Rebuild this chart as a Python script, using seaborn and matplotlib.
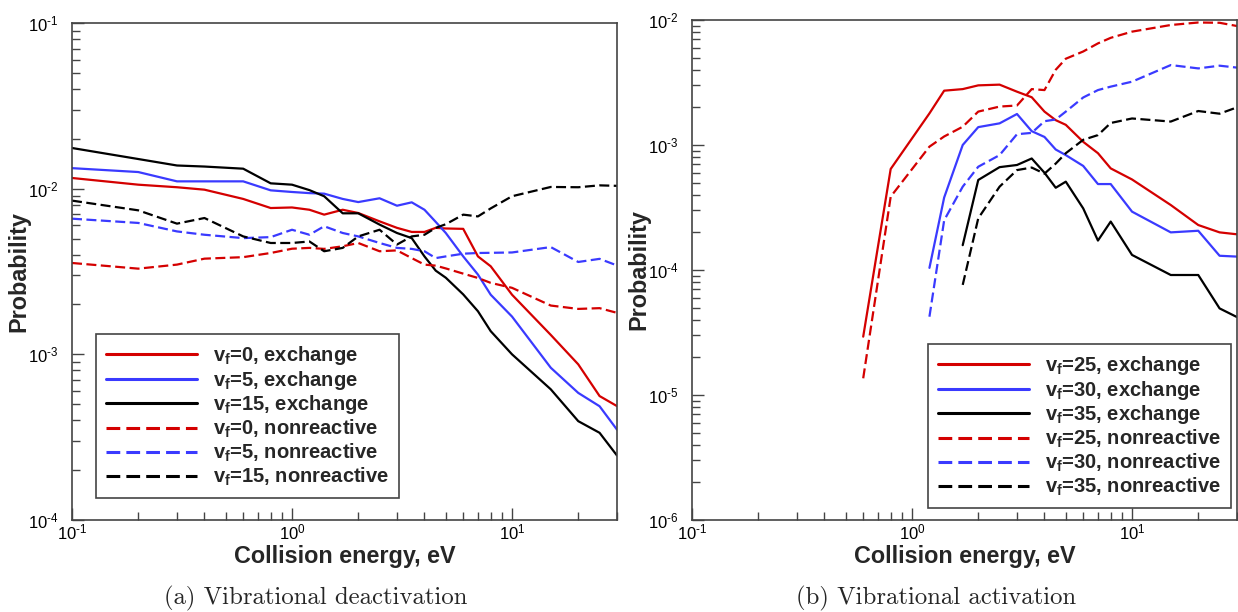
import numpy as np
import pandas as pd
import matplotlib
matplotlib.use("Agg")
import matplotlib.pyplot as plt
import seaborn as sns
from matplotlib.lines import Line2D
from matplotlib.ticker import LogLocator, NullFormatter, FuncFormatter

sns.set_style("ticks")
plt.rcParams['font.family'] = ['Liberation Sans', 'DejaVu Sans']
plt.rcParams['mathtext.fontset'] = 'custom'
plt.rcParams['mathtext.rm'] = 'Liberation Sans'
plt.rcParams['mathtext.bf'] = 'Liberation Sans:bold'
plt.rcParams['mathtext.it'] = 'Liberation Sans:italic'
plt.rcParams['axes.unicode_minus'] = False

# ---------------- data: (a) vibrational deactivation ----------------
E_a = [0.1, 0.2, 0.3, 0.4, 0.6, 0.8, 1.0, 1.2, 1.4, 1.7, 2.0, 2.5, 3.0, 3.5,
       4.0, 4.5, 5.0, 6.0, 7.0, 8.0, 10, 15, 20, 25, 30]
a_ex0 = [0.0116, 0.01057, 0.0102, 0.00986, 0.00867, 0.00764, 0.0077, 0.00746, 0.00697,
         0.00746, 0.00713, 0.00635, 0.0058, 0.00548, 0.00548, 0.0058, 0.00575, 0.00572,
         0.0039, 0.0034, 0.00229, 0.00131, 0.00087, 0.00056, 0.000487]
a_ex5 = [0.0133, 0.0126, 0.01107, 0.01107, 0.01107, 0.00977, 0.00955, 0.0094, 0.00933,
         0.00867, 0.0083, 0.00875, 0.00789, 0.00827, 0.00746, 0.0063, 0.0054, 0.0039,
         0.00303, 0.00229, 0.00169, 0.00083, 0.000585, 0.000486, 0.000351]
a_ex15 = [0.0176, 0.0151, 0.0138, 0.0136, 0.0132, 0.01077, 0.01057, 0.0098, 0.009,
          0.0071, 0.0071, 0.00607, 0.0054, 0.00503, 0.0039, 0.0032, 0.0029, 0.0023,
          0.00182, 0.00138, 0.001, 0.000615, 0.000395, 0.000336, 0.000245]
a_nr0 = [0.00356, 0.00329, 0.00348, 0.00378, 0.00386, 0.00409, 0.00434, 0.00439, 0.00433,
         0.00449, 0.0047, 0.00419, 0.00424, 0.00381, 0.00348, 0.00343, 0.0033, 0.00307,
         0.00289, 0.0027, 0.00252, 0.00197, 0.00188, 0.0019, 0.00178]
a_nr5 = [0.00659, 0.00621, 0.00552, 0.00527, 0.00503, 0.0051, 0.00565, 0.00527, 0.00593,
         0.0054, 0.00515, 0.0047, 0.00439, 0.00433, 0.00419, 0.00381, 0.0039, 0.00405,
         0.00409, 0.0041, 0.00412, 0.00444, 0.00361, 0.00377, 0.00344]
a_nr15 = [0.00847, 0.0074, 0.00615, 0.00665, 0.00515, 0.0047, 0.0047, 0.0048, 0.00419,
          0.00439, 0.00515, 0.00565, 0.0046, 0.00515, 0.00527, 0.0058, 0.0061, 0.00697,
          0.0068, 0.0076, 0.009, 0.01024, 0.0102, 0.01047, 0.0104]
labels_a = [r"v$_\mathbf{f}$=0, exchange", r"v$_\mathbf{f}$=5, exchange",
            r"v$_\mathbf{f}$=15, exchange", r"v$_\mathbf{f}$=0, nonreactive",
            r"v$_\mathbf{f}$=5, nonreactive", r"v$_\mathbf{f}$=15, nonreactive"]

# ---------------- data: (b) vibrational activation ----------------
E_b = [0.6, 0.8, 1.2, 1.4, 1.7, 2.0, 2.5, 3.0, 3.5, 4.0, 4.5, 5.0, 6.0, 7.0, 8.0,
       10, 15, 20, 25, 30]
b_ex25 = [2.93e-5, 6.43e-4, 1.79e-3, 2.72e-3, 2.8e-3, 3.0e-3, 3.04e-3, 2.67e-3, 2.41e-3,
          1.85e-3, 1.58e-3, 1.45e-3, 1.06e-3, 8.6e-4, 6.5e-4, 5.3e-4, 3.31e-4, 2.29e-4,
          2.0e-4, 1.93e-4]
b_nr25 = [1.36e-5, 3.86e-4, 9.7e-4, 1.17e-3, 1.4e-3, 1.85e-3, 2.03e-3, 2.07e-3, 2.8e-3,
          2.75e-3, 4.0e-3, 4.9e-3, 5.6e-3, 6.5e-3, 7.2e-3, 8.07e-3, 9.12e-3, 9.55e-3,
          9.5e-3, 8.95e-3]
b_ex30 = [1.04e-4, 3.8e-4, 1.0e-3, 1.39e-3, 1.49e-3, 1.77e-3, 1.29e-3, 1.16e-3, 9.2e-4,
          8.3e-4, 6.8e-4, 4.87e-4, 4.87e-4, 2.93e-4, 2.0e-4, 2.06e-4, 1.3e-4, 1.28e-4]
b_nr30 = [4.23e-5, 2.5e-4, 4.64e-4, 6.7e-4, 8.3e-4, 1.22e-3, 1.25e-3, 1.55e-3, 1.6e-3,
          1.85e-3, 2.4e-3, 2.75e-3, 2.93e-3, 3.21e-3, 4.36e-3, 4.1e-3, 4.31e-3, 4.16e-3]
b_ex35 = [1.58e-4, 5.25e-4, 6.65e-4, 6.92e-4, 7.8e-4, 6.0e-4, 4.55e-4, 5.09e-4, 3.11e-4,
          1.72e-4, 2.44e-4, 1.32e-4, 9.12e-5, 9.12e-5, 4.93e-5, 4.2e-5]
b_nr35 = [7.6e-5, 2.59e-4, 4.64e-4, 6.3e-4, 6.6e-4, 5.9e-4, 7.1e-4, 8.6e-4, 1.1e-3,
          1.2e-3, 1.5e-3, 1.63e-3, 1.54e-3, 1.87e-3, 1.78e-3, 2.0e-3]
labels_b = [r"v$_\mathbf{f}$=25, exchange", r"v$_\mathbf{f}$=30, exchange",
            r"v$_\mathbf{f}$=35, exchange", r"v$_\mathbf{f}$=25, nonreactive",
            r"v$_\mathbf{f}$=30, nonreactive", r"v$_\mathbf{f}$=35, nonreactive"]

# ---------------- styling ----------------
RED, BLUE, BLACK = '#d40000', '#3a3aff', '#000000'
SOLID, DASH = '-', (0, (4.5, 2.0))
LW = 1.6

series_a = [(E_a, a_ex0, RED, SOLID), (E_a, a_ex5, BLUE, SOLID), (E_a, a_ex15, BLACK, SOLID),
            (E_a, a_nr0, RED, DASH), (E_a, a_nr5, BLUE, DASH), (E_a, a_nr15, BLACK, DASH)]
series_b = [(E_b, b_ex25, RED, SOLID), (E_b[2:], b_ex30, BLUE, SOLID), (E_b[4:], b_ex35, BLACK, SOLID),
            (E_b, b_nr25, RED, DASH), (E_b[2:], b_nr30, BLUE, DASH), (E_b[4:], b_nr35, BLACK, DASH)]


def pow_fmt(v, pos):
    e = int(round(np.log10(v)))
    s = ('\u2010%d' % (-e)) if e < 0 else '%d' % e
    return r'10$^{' + s + '}$'


fig = plt.figure(figsize=(12.38, 6.12), dpi=100)
axA = fig.add_axes([72/1238, 1-520/612, 545/1238, 497/612])
axB = fig.add_axes([692/1238, 1-520/612, 545/1238, 500/612])


def draw(ax, series, labels, ylim, leg_loc, leg_anchor):
    handles = []
    for (x, y, c, ls), lab in zip(series, labels):
        df = pd.DataFrame({"energy": x, "prob": y})
        sns.lineplot(data=df, x="energy", y="prob", ax=ax, color=c, linestyle=ls,
                     linewidth=LW, estimator=None, sort=False, legend=False)
        handles.append(Line2D([], [], color=c, linestyle=ls, linewidth=2.2, label=lab))
    ax.set_xscale('log')
    ax.set_yscale('log')
    ax.set_xlim(0.1, 30)
    ax.set_ylim(*ylim)
    for axis in (ax.xaxis, ax.yaxis):
        axis.set_major_locator(LogLocator(base=10, numticks=20))
        axis.set_major_formatter(FuncFormatter(pow_fmt))
        axis.set_minor_locator(LogLocator(base=10, subs=np.arange(2, 10), numticks=100))
        axis.set_minor_formatter(NullFormatter())
    ax.tick_params(which='both', direction='in', top=False, right=False,
                   color='#444444', width=1.0, labelsize=12, labelcolor='black')
    ax.tick_params(which='major', length=8.5)
    ax.tick_params(which='minor', length=5.5)
    ax.tick_params(axis='x', which='major', pad=2)
    ax.tick_params(axis='y', which='major', pad=9.5)
    for s in ax.spines.values():
        s.set_color('#444444')
        s.set_linewidth(1.2)
    ax.set_xlabel('Collision energy, eV', fontsize=16.8, fontweight='bold')
    ax.set_ylabel('Probability', fontsize=16.8, fontweight='bold')
    ax.xaxis.set_label_coords(0.5, -0.05)
    ax.yaxis.set_label_coords(-0.077, 0.5)
    leg = ax.legend(handles=handles, loc=leg_loc, bbox_to_anchor=leg_anchor,
                    borderaxespad=0, prop={'weight': 'bold', 'size': 14.5},
                    handlelength=4.5, handletextpad=0.8, labelspacing=0.08,
                    borderpad=0.5, fancybox=False, framealpha=1, edgecolor='#444444')
    leg.get_frame().set_linewidth(1.2)


draw(axA, series_a, labels_a, (1e-4, 1e-1), 'lower left', (0.044, 0.044))
draw(axB, series_b, labels_b, (1e-6, 1e-2), 'lower right', (0.989, 0.024))

fig.text(316/1238, 1-598/612, '(a) Vibrational deactivation', family='cmr10',
         fontsize=17.8, ha='center', va='center')
fig.text(936/1238, 1-598/612, '(b) Vibrational activation', family='cmr10',
         fontsize=17.8, ha='center', va='center')

fig.savefig('out.png', dpi=100)
